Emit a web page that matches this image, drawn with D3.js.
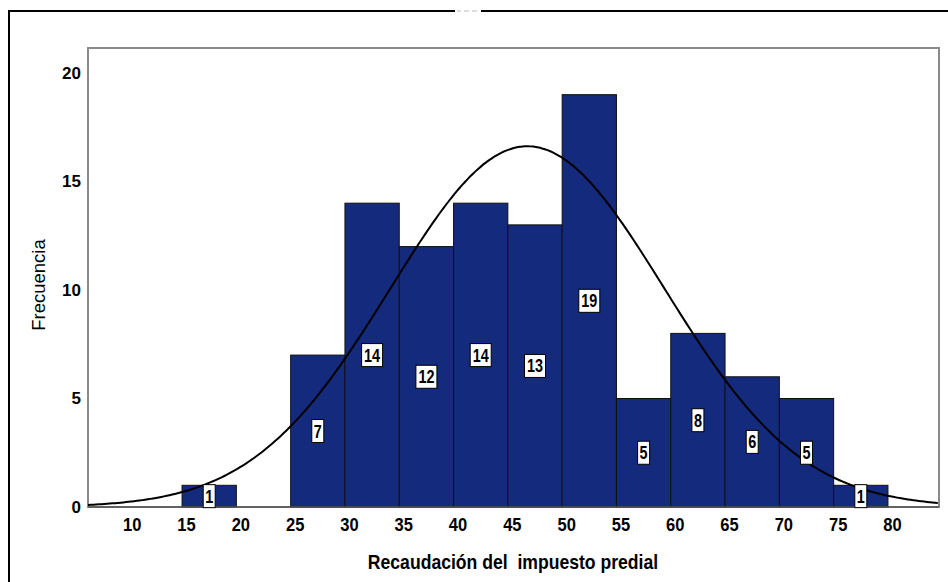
<!DOCTYPE html>
<html>
<head>
<meta charset="utf-8">
<script src="https://cdn.jsdelivr.net/npm/d3@7"></script>
<style>
html,body{margin:0;padding:0;background:#fff;}
svg{display:block;}
</style>
</head>
<body>
<svg id="chart" width="948" height="582"></svg>
<script>
// ---- data ----
const binStarts = [15, 20, 25, 30, 35, 40, 45, 50, 55, 60, 65, 70, 75];
const counts    = [1, 0, 7, 14, 12, 14, 13, 19, 5, 8, 6, 5, 1];
const binWidth = 5;
const xTicks = [10, 15, 20, 25, 30, 35, 40, 45, 50, 55, 60, 65, 70, 75, 80];
const yTicks = [0, 5, 10, 15, 20];
const curveMean = 46.8;
const curveSD = 12.6;
const totalN = 105;
const xTitle = "Recaudación del  impuesto predial";
const yTitle = "Frecuencia";

const svg = d3.select("#chart");
const L = 88, R = 939, T = 48, B = 507;
const x = d3.scaleLinear().domain([6.34, 84.7]).range([L, R]);
const y = d3.scaleLinear().domain([0, 21.15]).range([B, T]);
const FONT = "Liberation Sans, Arial, sans-serif";

// outer frame
svg.append("path").attr("d", `M9,582 L9,11 L948,11`).attr("fill","none").attr("stroke","#000").attr("stroke-width",2);
svg.append("rect").attr("x",455).attr("y",8).attr("width",26).attr("height",6).attr("fill","#fff");
svg.append("path").attr("d","M457,11 h4 M464,11 h5 M472,11 h5").attr("stroke","#bbb").attr("stroke-width",1);

// plot area
svg.append("rect").attr("x",L).attr("y",T).attr("width",R-L).attr("height",B-T)
  .attr("fill","#fff").attr("stroke","#8a8a8a").attr("stroke-width",2);

const data = binStarts.map((s,i)=>({s, c: counts[i]}));
const fmt = d3.format("d");

// bars
svg.append("g").selectAll("rect").data(data.filter(d=>d.c>0)).join("rect")
  .attr("x", d=>x(d.s)).attr("width", d=>x(d.s+binWidth)-x(d.s))
  .attr("y", d=>y(d.c)).attr("height", d=>y(0)-y(d.c))
  .attr("fill","#142a7c").attr("stroke","#111").attr("stroke-width",1);

// bottom axis line
svg.append("line").attr("x1",L).attr("x2",R).attr("y1",B).attr("y2",B).attr("stroke","#555").attr("stroke-width",1.5);

// normal curve
const pdf = v => totalN*binWidth/(curveSD*Math.sqrt(2*Math.PI))*Math.exp(-0.5*Math.pow((v-curveMean)/curveSD,2));
const xs = d3.range(x.domain()[0], x.domain()[1]+0.001, 0.25);
svg.append("path").datum(xs)
  .attr("d", d3.line().x(v=>x(v)).y(v=>y(pdf(v))).curve(d3.curveBasis))
  .attr("fill","none").attr("stroke","#000").attr("stroke-width",2);

// value labels
const lg = svg.append("g").selectAll("g").data(data.filter(d=>d.c>0)).join("g")
  .attr("transform", d=>`translate(${x(d.s+binWidth/2)},${y(d.c/2)})`);
lg.each(function(d){
  const g = d3.select(this);
  const t = fmt(d.c);
  const w = t.length===1 ? 12 : 21;
  g.append("rect").attr("x",-w/2).attr("y",-11.5).attr("width",w).attr("height",23)
    .attr("fill","#fff").attr("stroke","#000").attr("stroke-width",1);
  g.append("text").attr("text-anchor","middle").attr("dy","0.36em")
    .attr("transform","scale(0.8,1)")
    .attr("font-family",FONT).attr("font-weight","bold")
    .attr("font-size",18).attr("fill","#000").text(t);
});

// y axis labels
const yAxis = d3.axisLeft(y).tickValues(yTicks).tickSize(0).tickPadding(7).tickFormat(fmt);
const ya = svg.append("g").attr("transform",`translate(${L},0)`).call(yAxis);
ya.select(".domain").remove();
ya.selectAll("text").attr("font-family",FONT).attr("font-weight","bold")
  .attr("font-size",17).attr("fill","#000");

// x axis labels
const xAxis = d3.axisBottom(x).tickValues(xTicks).tickSize(0).tickPadding(0).tickFormat(fmt);
const xa = svg.append("g").attr("transform",`translate(0,${B})`).call(xAxis);
xa.select(".domain").remove();
xa.selectAll(".tick text").attr("y",null).attr("dy",null)
  .attr("transform","translate(4,24) scale(0.87,1)")
  .attr("font-family",FONT).attr("font-weight","bold").attr("font-size",19).attr("fill","#000");

// titles
svg.append("text").attr("transform","translate(513,569) scale(0.88,1)").attr("text-anchor","middle")
  .attr("font-family",FONT).attr("font-weight","bold").attr("font-size",20).attr("fill","#000")
  .style("white-space","pre").text(xTitle);
svg.append("text").attr("transform","translate(45,285) rotate(-90)").attr("text-anchor","middle")
  .attr("font-family",FONT).attr("font-size",18.5).attr("fill","#000").text(yTitle);
</script>
</body>
</html>
